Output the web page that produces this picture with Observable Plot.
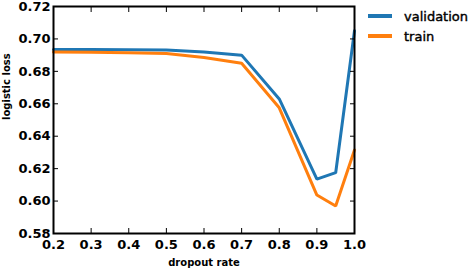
<!DOCTYPE html>
<html><head><meta charset="utf-8">
<script src="https://cdn.jsdelivr.net/npm/d3@7"></script>
<script src="https://cdn.jsdelivr.net/npm/@observablehq/plot@0.6"></script>
<style>
body{margin:0;background:#fff;font-family:"DejaVu Sans",sans-serif;}
#wrap{position:relative;width:470px;height:270px;}
#legend{position:absolute;left:368px;top:6px;font-size:13px;color:#000;-webkit-text-stroke:0.4px #000;}
.item{display:flex;align-items:center;height:20px;}
.sw{width:24px;height:4px;margin-right:12px;}
</style></head>
<body><div id="wrap"><div id="legend"></div></div>
<script>
const dropout = [0.2, 0.3, 0.4, 0.5, 0.6, 0.7, 0.8, 0.9, 0.95, 1.0];
const validation = [0.6935, 0.6935, 0.6934, 0.6932, 0.692, 0.690, 0.663, 0.6135, 0.6175, 0.705];
const train = [0.692, 0.6918, 0.6915, 0.691, 0.6886, 0.685, 0.6575, 0.6037, 0.597, 0.6315];
const seriesNames = ["validation", "train"];
const seriesColors = ["#1f77b4", "#ff7f0e"];
const xTicks = [0.2, 0.3, 0.4, 0.5, 0.6, 0.7, 0.8, 0.9, 1.0];
const yTicks = [0.58, 0.60, 0.62, 0.64, 0.66, 0.68, 0.70, 0.72];

const rows = [];
[validation, train].forEach((vals, s) => vals.forEach((v, i) => rows.push({series: seriesNames[s], x: dropout[i], y: v})));

const chart = Plot.plot({
  width: 470, height: 270,
  marginLeft: 53, marginRight: 116, marginTop: 6, marginBottom: 37,
  style: {fontFamily: "DejaVu Sans", fontSize: "13px", color: "#000", background: "#fff"},
  x: {domain: [0.2, 1.0]},
  y: {domain: [0.58, 0.72]},
  color: {domain: seriesNames, range: seriesColors},
  marks: [
    Plot.line(rows, {x: "x", y: "y", z: "series", stroke: "series", strokeWidth: 3, strokeLinejoin: "miter"}),
    Plot.axisX(xTicks, {anchor: "bottom", tickSize: -5, tickPadding: 11, tickFormat: d => d.toFixed(1), label: null, fontSize: 13, fontWeight: "bold"}),
    Plot.axisX(xTicks, {anchor: "top", tickSize: -5, tickFormat: () => "", label: null}),
    Plot.axisY(yTicks, {anchor: "left", tickSize: -5, tickPadding: 8, tickFormat: d => d.toFixed(2), label: null, fontSize: 13, fontWeight: "bold"}),
    Plot.axisY(yTicks, {anchor: "right", tickSize: -5, tickFormat: () => "", label: null}),
    Plot.frame({stroke: "#000", strokeWidth: 2}),
    Plot.text(["dropout rate"], {frameAnchor: "bottom", dy: 32, fontSize: 10, fontWeight: "bold"}),
    Plot.text(["logistic loss"], {frameAnchor: "left", dx: -47, rotate: -90, fontSize: 10, fontWeight: "bold"})
  ]
});
document.getElementById("wrap").prepend(chart);
const leg = document.getElementById("legend");
seriesNames.forEach((n, i) => {
  const d = document.createElement("div"); d.className = "item";
  d.innerHTML = `<span class="sw" style="background:${seriesColors[i]}"></span><span>${n}</span>`;
  leg.appendChild(d);
});
</script></body></html>
